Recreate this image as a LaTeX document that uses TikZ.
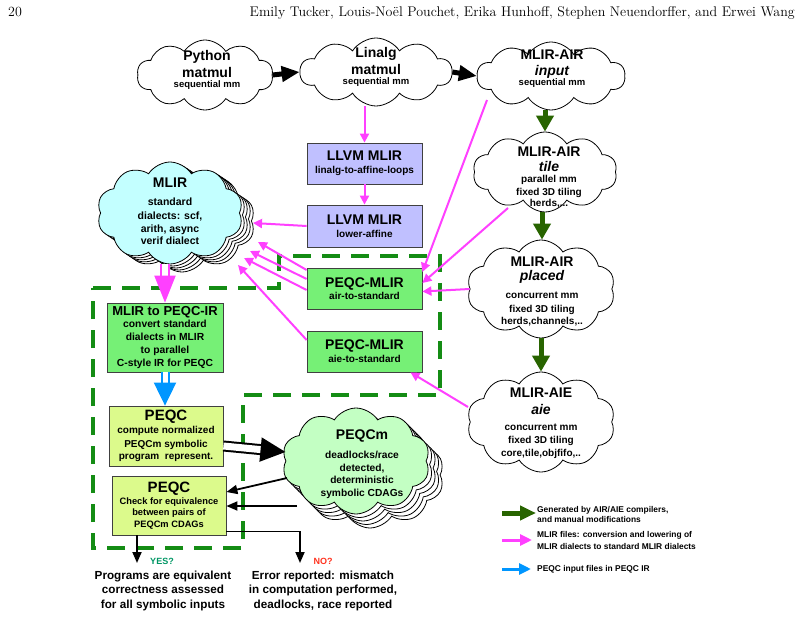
\documentclass[tikz,border=0pt]{standalone}
\usepackage{fontspec}
\setsansfont{Liberation Sans}
\usetikzlibrary{shapes.symbols,arrows.meta,calc}
\definecolor{mag}{RGB}{255,64,255}
\definecolor{dgreen}{RGB}{40,100,0}
\definecolor{dashgreen}{RGB}{20,140,20}
\definecolor{lav}{RGB}{192,192,255}
\definecolor{boxgreen}{RGB}{118,240,118}
\definecolor{ygreen}{RGB}{220,250,140}
\definecolor{cyanc}{RGB}{195,255,255}
\definecolor{lgreenc}{RGB}{195,255,195}
\definecolor{pblue}{RGB}{0,150,255}
\definecolor{yesc}{RGB}{0,150,100}
\definecolor{noc}{RGB}{255,50,30}
\newcommand{\fz}[2]{\fontsize{#1}{#2}\selectfont}
\begin{document}
\begin{tikzpicture}[x=1pt,y=-1pt,
  cl/.style={cloud, cloud puffs=10, cloud puff arc=115, cloud ignores aspect, draw=black, line width=0.8pt, inner sep=0pt, fill=white},
  ct/.style={anchor=north, align=center, inner sep=0pt, font=\sffamily\bfseries\fz{10}{13}},
  bx/.style={draw=black!75, line width=0.8pt, inner sep=0pt, align=center, font=\sffamily\bfseries\fz{10}{13}},
  mg/.style={draw=mag, line width=2pt, -{Triangle[length=9pt,width=9pt]}},
  gr/.style={draw=dgreen, line width=5pt, -{Triangle[length=16pt,width=17pt]}},
  bk/.style={draw=black, line width=5pt, -{Triangle[length=18pt,width=15pt]}},
  tb/.style={draw=black, line width=1.8pt, -{Triangle[length=11pt,width=9pt]}},
  lt/.style={anchor=west, align=left, inner sep=0pt, font=\sffamily\bfseries\fz{8.4}{10}},
  bt/.style={align=center, inner sep=0pt, font=\sffamily\bfseries\fz{11.7}{14.5}},
  dsh/.style={draw=dashgreen, line width=4pt, dash pattern=on 18pt off 11pt}
]
\useasboundingbox (0,0) rectangle (802,617);

% header
\node[anchor=base west, inner sep=0pt, font=\rmfamily\fz{14}{15}] (pgno) at (8,17) {20};
\node[anchor=base east, inner sep=0pt, font=\rmfamily\fz{14}{15}] (auth) at (795,17) {Emily Tucker, Louis-Noël Pouchet, Erika Hunhoff, Stephen Neuendorffer, and Erwei Wang};

% dashed region
\draw[dsh] (93,288) -- (279,288) -- (279,256) -- (440,256) -- (440,395) -- (243,395) -- (243,548) -- (93,548) -- cycle;

% top clouds
\node[cl, minimum width=136pt, minimum height=70pt] (py) at (205,75) {};
\node[ct] (pyt) at (207,49.8) {\fz{14}{13}Python\\[3.5pt]\fz{14}{13}matmul\\[-3pt]\fz{9.5}{13}sequential mm};
\node[cl, minimum width=152pt, minimum height=68pt] (la) at (376,72) {};
\node[ct] (lat) at (376,46.8) {\fz{14}{13}Linalg\\[3pt]\fz{14}{13}matmul\\[-2.5pt]\fz{9.5}{13}sequential mm};
\node[cl, minimum width=148pt, minimum height=68pt] (ain) at (551,76) {};
\node[ct] (aint) at (552,49.8) {\fz{14}{13}MLIR-AIR\\[3pt]\fz{14}{13}\itshape input\\[-3pt]\fz{9.5}{13}sequential mm};
\node[cl, minimum width=144pt, minimum height=80pt] (atile) at (545,172) {};
\node[ct] (atilet) at (549,146.8) {\fz{14}{13}MLIR-AIR\\[2pt]\fz{14}{13}\itshape tile\\[-2.5pt]parallel mm\\[0pt]fixed 3D tiling\\[-2pt]herds,...};
\node[cl, minimum width=148pt, minimum height=98pt] (aplace) at (541,289) {};
\node[ct] (aplacet) at (542,256.8) {\fz{14}{13}MLIR-AIR\\[1pt]\fz{14}{13}\itshape placed\\[5pt]concurrent mm\\[1pt]fixed 3D tiling\\[-1pt]herds,channels,..};
\node[cl, minimum width=148pt, minimum height=100pt] (aie) at (541,422) {};
\node[ct] (aiet) at (541,387.8) {\fz{14}{13}MLIR-AIE\\[4pt]\fz{14}{13}\itshape aie\\[3pt]concurrent mm\\fixed 3D tiling\\core,tile,objfifo,..};

% stacked MLIR cloud
\foreach \k in {4,3,2,1}{
  \node[cl, minimum width=146pt, minimum height=102pt] (mlirb\k) at ($(170,213)+(3*\k,2*\k)$) {};
}
\node[cl, fill=cyanc, minimum width=146pt, minimum height=102pt] (mlir) at (170,213) {};
\node[ct, font=\sffamily\bfseries\fz{10.5}{13}] (mlirt) at (170,177.8) {\fz{14}{13}MLIR\\[5pt]standard\\[1pt]dialects: scf,\\arith, async\\[-1pt]verif dialect};

% stacked PEQCm cloud
\foreach \k in {4,3,2,1}{
  \node[cl, minimum width=148pt, minimum height=106pt] (pqmb\k) at ($(356,461)+(3.5*\k,3.5*\k)$) {};
}
\node[cl, fill=lgreenc, minimum width=148pt, minimum height=106pt] (pqm) at (356,461) {};
\node[ct, font=\sffamily\bfseries\fz{10.2}{12.5}] (pqmt) at (362,429.8) {\fz{14}{13}PEQCm\\[6.5pt]deadlocks/race\\detected,\\deterministic\\symbolic CDAGs};

% boxes
\node[bx, fill=lav, minimum width=115pt, minimum height=41pt] (llvm1) at (364.5,163.5) {\fz{14}{13}LLVM MLIR\\linalg-to-affine-loops};
\node[bx, fill=lav, minimum width=115pt, minimum height=42pt] (llvm2) at (364.5,226) {\fz{14}{13}LLVM MLIR\\lower-affine};
\node[bx, fill=boxgreen, minimum width=115pt, minimum height=41pt] (pm1) at (364.5,288.5) {\fz{14}{13}PEQC-MLIR\\[-0.5pt]air-to-standard};
\node[bx, fill=boxgreen, minimum width=115pt, minimum height=41pt] (pm2) at (364.5,351.5) {\fz{14}{13}PEQC-MLIR\\aie-to-standard};
\node[bx, fill=boxgreen, minimum width=116pt, minimum height=69pt, font=\sffamily\bfseries\fz{10.3}{13}] (m2p) at (165,337.5) {\fz{13}{13}MLIR to PEQC-IR\\[-1pt]convert standard\\dialects in MLIR\\to parallel\\C-style IR for PEQC};
\node[bx, fill=ygreen, minimum width=114pt, minimum height=60pt] (pq1) at (166,436) {\fz{15}{13}PEQC\\compute normalized\\[0.5pt]PEQCm symbolic\\[-1pt]program\ \ represent.};
\node[bx, fill=ygreen, minimum width=114pt, minimum height=59pt, font=\sffamily\bfseries\fz{9.3}{11.5}] (pq2) at (169,505.5) {\fz{15}{12}PEQC\\Check for equivalence\\between pairs of\\PEQCm CDAGs};

% black arrows top
\draw[bk] (py.east) -- (la.west);
\draw[bk] (la.east) -- (ain.west);
% green arrows
\draw[gr] (atile.north |- ain.south) -- (atile.north);
\draw[gr] ($(atile.center)+(-3,40)$) coordinate (tb0) -- (tb0 |- aplace.north);
\draw[gr] (aplace.south) -- (aie.north);

% magenta arrows
\draw[mg] (llvm1.north |- la.south) -- (llvm1.north);
\draw[mg] (llvm1.south) -- (llvm2.north);
\draw[mg] (llvm2.west) -- ($(mlir.center)+(83,10)$);
\draw[mg] ([yshift=18.5pt]pm1.west) -- ($(mlir.center)+(88,29)$);
\draw[mg] ([yshift=9.5pt]pm1.west) -- ($(mlir.center)+(80,38)$);
\draw[mg] ([yshift=-1.5pt]pm1.west) -- ($(mlir.center)+(74,45)$);
\draw[mg] ([yshift=11.5pt]pm2.west) -- ($(mlir.center)+(68,52)$);
\draw[mg] ($(ain.center)+(-64,24)$) -- ([yshift=16.5pt]pm1.east);
\draw[mg] ($(atile.center)+(-37,36)$) -- ([yshift=5.5pt]pm1.east);
\draw[mg] (aplace.west) -- ([yshift=-3pt]pm1.east);
\draw[mg] ($(aie.center)+(-73,-15)$) -- ([xshift=46pt]pm2.south);

% double arrows
\draw[draw=mag, double=white, line width=2pt, double distance=6pt, -{Triangle[length=27pt,width=21pt]}] (m2p.north |- mlir.south) -- (m2p.north);
\draw[draw=pblue, double=white, line width=2pt, double distance=5pt, -{Triangle[length=23pt,width=22pt]}] (m2p.south) -- (m2p.south |- pq1.north);
\draw[draw=black, double=white, line width=2pt, double distance=7pt, -{Triangle[length=25pt,width=24pt]}] ([yshift=-10pt]pq1.east) -- ([yshift=9pt]pqm.west);

% PEQCm -> PEQC check
\draw[tb] ($(pqm.center)+(-69,17)$) -- ([yshift=13.5pt]pq2.east);
\draw[tb] ($(pqm.center)+(-59,45)$) coordinate (s2) -- (s2 -| pq2.east);

% outcomes
\node[bt] (eq) at (163,590.7) {Programs are equivalent\\correctness assessed\\for all symbolic inputs};
\node[bt] (err) at (323,590.7) {Error reported: mismatch\\in computation performed,\\deadlocks, race reported};
\coordinate (yestip) at (137,563);
\coordinate (notip) at (300,563);
\draw[tb] (pq2.south -| yestip) -- (yestip);
\draw[tb] ([yshift=4pt]pq2.south east) -| (notip);
\node[inner sep=0pt, text=yesc, font=\sffamily\bfseries\fz{9}{11}] (yes) at (162,561) {YES?};
\node[inner sep=0pt, text=noc, font=\sffamily\bfseries\fz{9}{11}] (no) at (323,561) {NO?};

% legend
\coordinate (lg1a) at (502,513); \coordinate (lg1b) at (536,513);
\draw[draw=dgreen, line width=5pt, -{Triangle[length=16pt,width=14pt]}] (lg1a) -- (lg1b);
\node[lt] (lg1t) at (537,514) {Generated by AIR/AIE compilers,\\and manual modifications};
\coordinate (lg2a) at (502,540); \coordinate (lg2b) at (532,540);
\draw[draw=mag, line width=3pt, -{Triangle[length=12pt,width=11pt]}] (lg2a) -- (lg2b);
\node[lt, font=\sffamily\bfseries\fz{8.4}{12}] (lg2t) at (537,540) {MLIR files: conversion and lowering of\\MLIR dialects to standard MLIR dialects};
\coordinate (lg3a) at (502,569); \coordinate (lg3b) at (531,569);
\draw[draw=pblue, line width=3pt, -{Triangle[length=12pt,width=11pt]}] (lg3a) -- (lg3b);
\node[lt] (lg3t) at (537,569) {PEQC input files in PEQC IR};
\end{tikzpicture}
\end{document}
